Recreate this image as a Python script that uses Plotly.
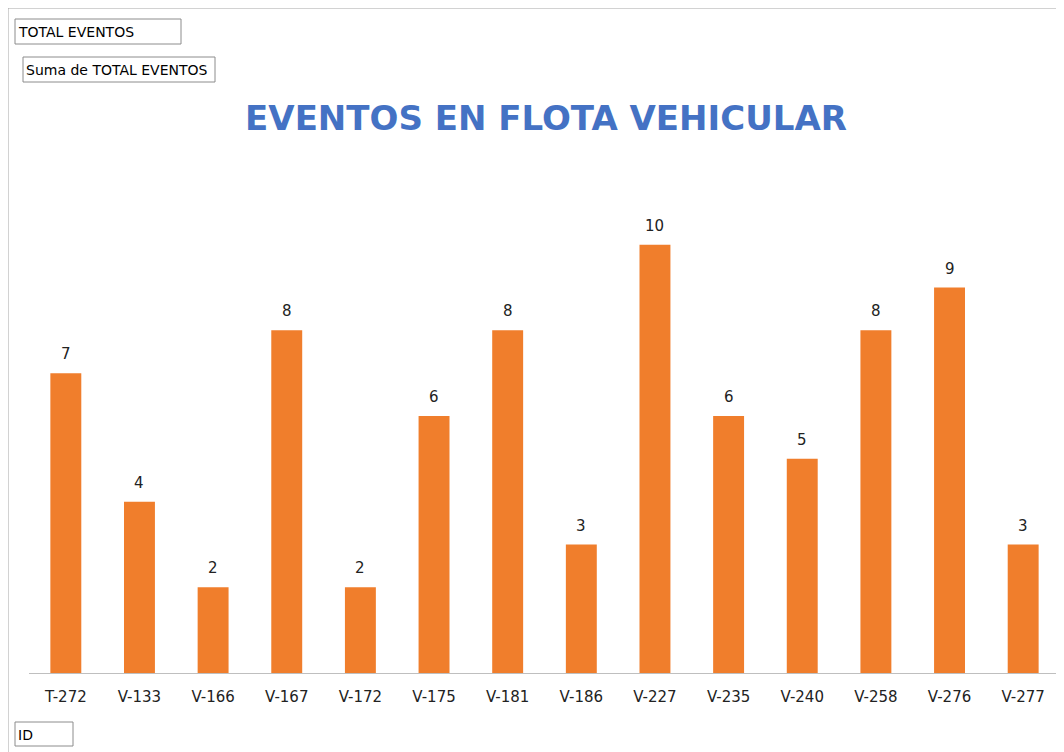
import plotly.graph_objects as go

# Pivot chart: events per vehicle ID
vehicle_ids = ["T-272", "V-133", "V-166", "V-167", "V-172", "V-175", "V-181",
               "V-186", "V-227", "V-235", "V-240", "V-258", "V-276", "V-277"]
total_events = [7, 4, 2, 8, 2, 6, 8, 3, 10, 6, 5, 8, 9, 3]

W, H = 1064, 752
OFF = 8  # page body margin
ML, MR, MT, MB = 21, 12, 151, 87
PW, PH = W - ML - MR, H - MT - MB


# convert page pixel positions (as seen in the screenshot) to paper coords
def px(x):
    return (x - OFF - ML) / PW


def py(y):
    return (H - MB - (y - OFF)) / PH


fig = go.Figure(go.Bar(
    x=vehicle_ids,
    y=total_events,
    marker=dict(color="#F07E2C", line=dict(width=0)),
    cliponaxis=False,
))

# Excel-style field buttons and outer chart frame
shapes = [
    dict(type="rect", xref="paper", yref="paper", x0=px(8), x1=px(1100), y0=py(8), y1=py(800),
         line=dict(color="#A6A6A6", width=1)),
    dict(type="rect", xref="paper", yref="paper", x0=px(15), x1=px(181), y0=py(19), y1=py(44),
         line=dict(color="#8C8C8C", width=1)),
    dict(type="rect", xref="paper", yref="paper", x0=px(23), x1=px(215), y0=py(57), y1=py(82),
         line=dict(color="#8C8C8C", width=1)),
    dict(type="rect", xref="paper", yref="paper", x0=px(15), x1=px(73), y0=py(722), y1=py(746),
         line=dict(color="#8C8C8C", width=1)),
]

annotations = [
    dict(text="TOTAL EVENTOS", x=px(16), y=py(32), xref="paper", yref="paper",
         xanchor="left", yanchor="middle", showarrow=False,
         font=dict(family="DejaVu Sans", size=14, color="#000000")),
    dict(text="Suma de TOTAL EVENTOS", x=px(24), y=py(70), xref="paper", yref="paper",
         xanchor="left", yanchor="middle", showarrow=False,
         font=dict(family="DejaVu Sans", size=14, color="#000000")),
    dict(text="ID", x=px(16), y=py(735), xref="paper", yref="paper",
         xanchor="left", yanchor="middle", showarrow=False,
         font=dict(family="DejaVu Sans", size=14, color="#000000")),
]

# value labels sitting a bit above each bar
for vid, val in zip(vehicle_ids, total_events):
    annotations.append(dict(text=str(val), x=vid, y=val, xref="x", yref="y",
                            yanchor="bottom", yshift=8, showarrow=False,
                            font=dict(family="DejaVu Sans", size=15, color="#222222")))

fig.update_layout(
    width=W, height=H,
    margin=dict(l=ML, r=MR, t=MT, b=MB),
    paper_bgcolor="white", plot_bgcolor="white",
    bargap=0.58,
    showlegend=False,
    title=dict(text="<b>EVENTOS EN FLOTA VEHICULAR</b>", x=px(546), xanchor="center",
               y=1 - (118 - OFF) / H, yanchor="middle", xref="paper",
               font=dict(family="DejaVu Sans", size=34, color="#4472C4")),
    xaxis=dict(showline=True, linecolor="#BFBFBF", linewidth=1, ticks="",
               ticklabelstandoff=10,
               tickfont=dict(family="DejaVu Sans", size=15, color="#222222"),
               showgrid=False),
    yaxis=dict(range=[0, 12], visible=False, showgrid=False, zeroline=False),
    shapes=shapes,
    annotations=annotations,
)

fig.write_html("out.html")
